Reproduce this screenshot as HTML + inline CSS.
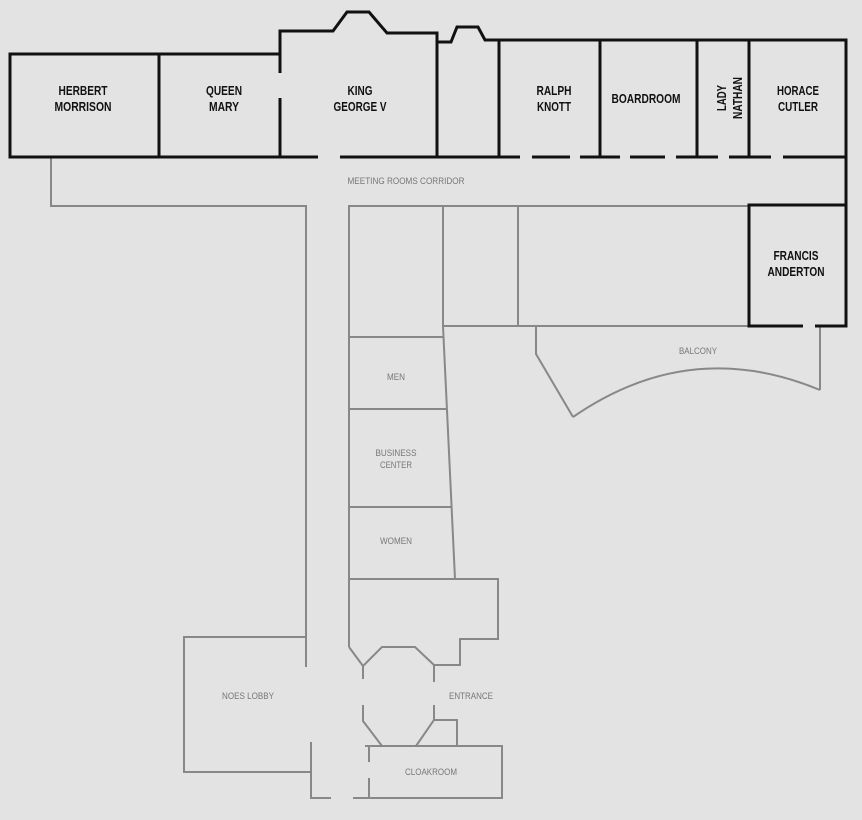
<!DOCTYPE html>
<html><head><style>
html,body{margin:0;padding:0;background:#e3e3e3;}
svg{display:block;}
.b{font-family:"Liberation Sans",sans-serif;font-weight:bold;font-size:12.5px;fill:#111;text-anchor:middle;}
.g{font-family:"Liberation Sans",sans-serif;font-size:9.5px;fill:#777;text-anchor:middle;}
</style></head><body>
<svg width="862" height="820" viewBox="0 0 862 820" xmlns="http://www.w3.org/2000/svg">
<rect width="862" height="820" fill="#e3e3e3"/>
<g fill="none" stroke="#888" stroke-width="2">
<polyline points="51,157 51,206 306,206 306,667"/>
<polyline points="307,637 184,637 184,772 311,772"/>
<polyline points="311,742 311,798 331,798"/>
<polyline points="353,798 502,798 502,746 365,746"/>
<line x1="369" y1="746" x2="369" y2="762"/>
<line x1="369" y1="778" x2="369" y2="798"/>
<polyline points="348,206 748,206"/>
<line x1="349" y1="206" x2="349" y2="647"/>
<line x1="443" y1="206" x2="443" y2="326"/>
<line x1="518" y1="206" x2="518" y2="326"/>
<line x1="443" y1="326" x2="749" y2="326"/>
<line x1="349" y1="337" x2="444" y2="337"/>
<line x1="443" y1="326" x2="455" y2="579"/>
<line x1="349" y1="409" x2="447" y2="409"/>
<line x1="349" y1="507" x2="451" y2="507"/>
<polyline points="349,579 498,579 498,639 460,639 460,665 434,665 434,682"/>
<polyline points="349,647 363,666 363,679"/>
<polyline points="363,666 382,647 415,647 434,665"/>
<polyline points="363,705 363,721 382,746"/>
<polyline points="434,705 434,720 416,746"/>
<polyline points="434,720 457,720 457,746"/>
<polyline points="820,326 820,390"/>
<polyline points="536,326 536,354 573,417"/>
<path d="M573,417 Q690,336 820,390"/>
</g>
<g fill="none" stroke="#111" stroke-width="3">
<polyline points="280,157 10,157 10,54 280,54"/>
<line x1="159" y1="54" x2="159" y2="157"/>
<polyline points="280,73 280,31 333,31 347,12 369,12 387,33 437,33 437,157"/>
<line x1="280" y1="98" x2="280" y2="157"/>
<polyline points="437,42 451,42 457,27 478,27 485,40 846,40 846,326 815,326"/>
<polyline points="803,326 749,326 749,205 846,205"/>
<line x1="499" y1="40" x2="499" y2="157"/>
<line x1="600" y1="40" x2="600" y2="157"/>
<line x1="697" y1="40" x2="697" y2="157"/>
<line x1="749" y1="40" x2="749" y2="157"/>
<path d="M10,157H79M99,157H243M264,157H318M340,157H520M532,157H570M580,157H620M630,157H665M676,157H718M729,157H771M783,157H846"/>
</g>
<g lengthAdjust="spacingAndGlyphs">
<text class="b" x="83" y="95" textLength="49" lengthAdjust="spacingAndGlyphs">HERBERT</text><text class="b" x="83" y="111" textLength="57" lengthAdjust="spacingAndGlyphs">MORRISON</text>
<text class="b" x="224" y="95" textLength="36" lengthAdjust="spacingAndGlyphs">QUEEN</text><text class="b" x="224" y="111" textLength="30" lengthAdjust="spacingAndGlyphs">MARY</text>
<text class="b" x="360" y="95" textLength="25" lengthAdjust="spacingAndGlyphs">KING</text><text class="b" x="360" y="111" textLength="53" lengthAdjust="spacingAndGlyphs">GEORGE V</text>
<text class="b" x="554" y="95" textLength="35" lengthAdjust="spacingAndGlyphs">RALPH</text><text class="b" x="554" y="111" textLength="34" lengthAdjust="spacingAndGlyphs">KNOTT</text>
<text class="b" x="646" y="103" textLength="69" lengthAdjust="spacingAndGlyphs">BOARDROOM</text>
<g transform="translate(730,98) rotate(-90)"><text class="b" x="0" y="-4" textLength="26" lengthAdjust="spacingAndGlyphs">LADY</text><text class="b" x="0" y="12" textLength="42" lengthAdjust="spacingAndGlyphs">NATHAN</text></g>
<text class="b" x="798" y="95" textLength="42" lengthAdjust="spacingAndGlyphs">HORACE</text><text class="b" x="798" y="111" textLength="40" lengthAdjust="spacingAndGlyphs">CUTLER</text>
<text class="b" x="796" y="260" textLength="45" lengthAdjust="spacingAndGlyphs">FRANCIS</text><text class="b" x="796" y="276" textLength="57" lengthAdjust="spacingAndGlyphs">ANDERTON</text>
<text class="g" x="406" y="184" textLength="117" lengthAdjust="spacingAndGlyphs">MEETING ROOMS CORRIDOR</text>
<text class="g" x="698" y="354" textLength="38" lengthAdjust="spacingAndGlyphs">BALCONY</text>
<text class="g" x="396" y="380" textLength="18" lengthAdjust="spacingAndGlyphs">MEN</text>
<text class="g" x="396" y="456" textLength="41" lengthAdjust="spacingAndGlyphs">BUSINESS</text><text class="g" x="396" y="468" textLength="32" lengthAdjust="spacingAndGlyphs">CENTER</text>
<text class="g" x="396" y="544" textLength="32" lengthAdjust="spacingAndGlyphs">WOMEN</text>
<text class="g" x="248" y="699" textLength="52" lengthAdjust="spacingAndGlyphs">NOES LOBBY</text>
<text class="g" x="471" y="699" textLength="44" lengthAdjust="spacingAndGlyphs">ENTRANCE</text>
<text class="g" x="431" y="775" textLength="52" lengthAdjust="spacingAndGlyphs">CLOAKROOM</text>
</g>
</svg>
</body></html>
